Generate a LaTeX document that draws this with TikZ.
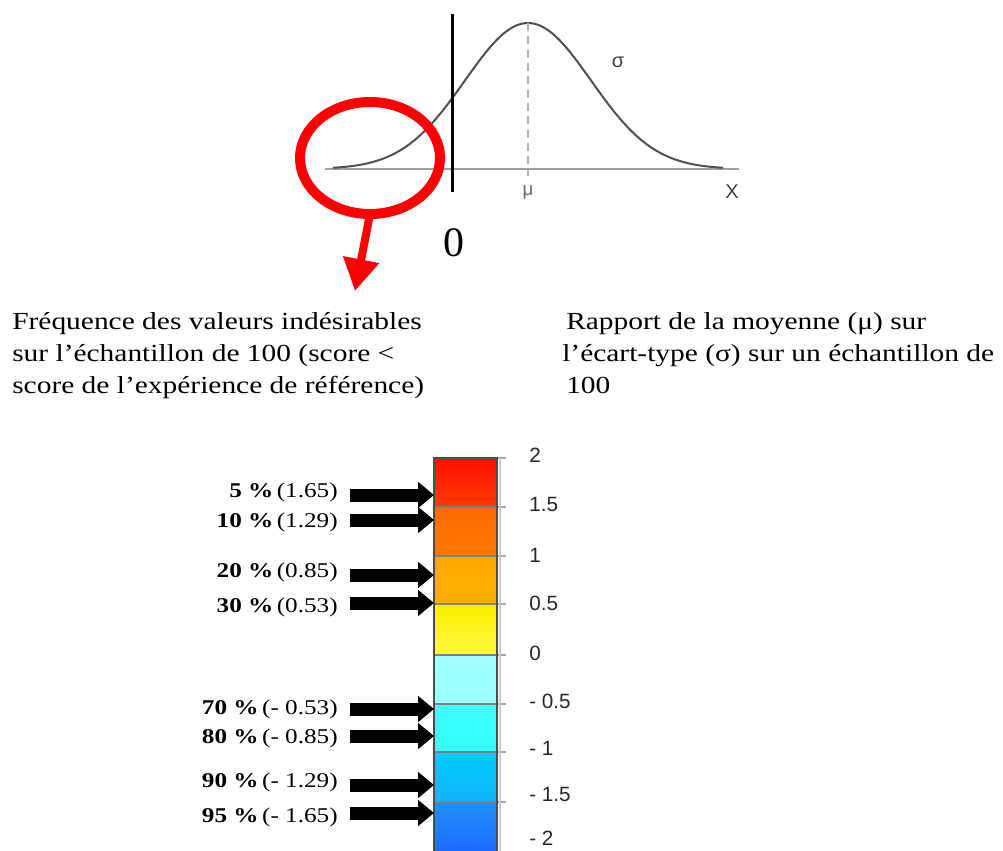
\documentclass[tikz,border=0pt]{standalone}
\usepackage{fontspec}
\setmainfont{Liberation Serif}
\newfontfamily\wserif[FakeStretch=1.2]{Liberation Serif}
\newfontfamily\lsans{Liberation Sans}
\usetikzlibrary{arrows.meta,shapes.geometric}
\definecolor{curvegray}{HTML}{505050}
\definecolor{axisgray}{HTML}{A0A0A0}
\definecolor{redmark}{HTML}{FF0000}
\begin{document}
\begin{tikzpicture}[x=0.75pt,y=-0.75pt,
  para/.style={anchor=base west, inner sep=0, font=\wserif\fontsize{18.4}{24}\selectfont},
  lab/.style={anchor=base east, inner sep=0, font=\wserif\fontsize{15.75}{18}\selectfont},
  tick/.style={anchor=west, inner sep=0, font=\lsans\fontsize{15.5}{18}\selectfont, text=black!85},
  blkarrow/.style={line width=9.75pt, -{Triangle[width=19pt,length=12pt]}},
  redarrow/.style={draw=redmark, line width=6pt, -{Triangle[width=26pt,length=24pt]}},
  sep/.style={draw=black!50, line width=0.9pt},
  tickmark/.style={draw=black!35, line width=1.2pt}]
\useasboundingbox (0,0) rectangle (1003,850);

% ---------- Gaussian plot ----------
\draw[axisgray, line width=1.3pt] (325,169) -- (739,169);
\draw[curvegray, line width=1.5pt, domain=333:723, samples=120, smooth]
  plot (\x, {169-146*exp(-((\x-528)/63)^2/2)});
\draw[black!30, line width=1.3pt, dash pattern=on 6pt off 4pt] (528,23) -- (528,176);
\draw[black, line width=1.6pt] (452.5,14) -- (452.5,192);
\node[inner sep=0, font=\lsans\fontsize{14}{15}\selectfont, text=black!60] (mu) at (528,192) {μ};
\node[inner sep=0, font=\lsans\fontsize{15}{16}\selectfont, text=black!75] (sig) at (618,62) {σ};
\node[inner sep=0, font=\lsans\fontsize{15}{16}\selectfont, text=black!75] (xl) at (732,192) {X};
\node[inner sep=0, font=\fontsize{31.5}{32}\selectfont] (zero) at (454,243) {0};

% ---------- red ellipse and arrow ----------
\node[ellipse, draw=redmark, line width=7.5pt, inner sep=0, outer sep=0,
      minimum width=105pt, minimum height=84pt] (ell) at (370,158) {};
\coordinate (redtip) at (355,291);
\draw[redarrow] (ell.south) -- (redtip);

% ---------- paragraphs ----------
\node[para] (p1) at (12,329) {Fréquence des valeurs indésirables};
\node[para] (p2) at (12,361) {sur l’échantillon de 100 (score <};
\node[para] (p3) at (12,393) {score de l’expérience de référence)};
\node[para] (q1) at (566,329) {Rapport de la moyenne (μ) sur};
\node[para] (q2) at (562,361) {l’écart-type (σ) sur un échantillon de};
\node[para] (q3) at (566,393) {100};

% ---------- colour bar ----------
\shade[top color={rgb,255:red,255;green,16;blue,0}, bottom color={rgb,255:red,255;green,58;blue,0}] (434,458) rectangle (497,507);
\shade[top color={rgb,255:red,255;green,106;blue,0}, bottom color={rgb,255:red,255;green,122;blue,0}] (434,507) rectangle (497,556);
\shade[top color={rgb,255:red,255;green,168;blue,0}, bottom color={rgb,255:red,255;green,176;blue,0}] (434,556) rectangle (497,604);
\shade[top color={rgb,255:red,255;green,238;blue,0}, bottom color={rgb,255:red,255;green,248;blue,64}] (434,604) rectangle (497,655);
\shade[top color={rgb,255:red,160;green,255;blue,255}, bottom color={rgb,255:red,152;green,255;blue,255}] (434,655) rectangle (497,704);
\shade[top color={rgb,255:red,64;green,255;blue,255}, bottom color={rgb,255:red,48;green,255;blue,248}] (434,704) rectangle (497,752);
\shade[top color={rgb,255:red,0;green,204;blue,255}, bottom color={rgb,255:red,16;green,180;blue,248}] (434,752) rectangle (497,802);
\shade[top color={rgb,255:red,32;green,144;blue,255}, bottom color={rgb,255:red,32;green,96;blue,255}] (434,802) rectangle (497,862);
\foreach \yy in {507,556,604,655,704,752,802} {
  \draw[sep] (434,\yy) -- (497,\yy);
}
\foreach \yy in {458,507,556,604,655,704,752,802} {
  \draw[tickmark] (497,\yy) -- (506,\yy);
}
\draw[black!20, line width=1.2pt] (500,458) -- (500,862);
\node[draw=black!70, line width=1.3pt, anchor=north west, inner sep=0, outer sep=0,
      minimum width=47.25pt, minimum height=303pt] (bar) at (434,458) {};

% tick labels
\node[tick] (t1) at (529,455) {2};
\node[tick] (t2) at (529,504) {1.5};
\node[tick] (t3) at (529,555) {1};
\node[tick] (t4) at (529,603) {0.5};
\node[tick] (t5) at (529,653) {0};
\node[tick] (t6) at (529,701) {- 0.5};
\node[tick] (t7) at (529,748) {- 1};
\node[tick] (t8) at (529,794) {- 1.5};
\node[tick] (t9) at (529,838) {- 2};

% ---------- arrow labels and arrows ----------
\node[lab] (l5)  at (338,497) {\textbf{5 \%}\,(1.65)};
\node[lab] (l10) at (338,527) {\textbf{10 \%}\,(1.29)};
\node[lab] (l20) at (338,577) {\textbf{20 \%}\,(0.85)};
\node[lab] (l30) at (338,612) {\textbf{30 \%}\,(0.53)};
\node[lab] (l70) at (338,714) {\textbf{70 \%}\,(- 0.53)};
\node[lab] (l80) at (338,743) {\textbf{80 \%}\,(- 0.85)};
\node[lab] (l90) at (338,787) {\textbf{90 \%}\,(- 1.29)};
\node[lab] (l95) at (338,822) {\textbf{95 \%}\,(- 1.65)};

\coordinate (s5)  at (350,495);
\coordinate (s10) at (350,520);
\coordinate (s20) at (350,575);
\coordinate (s30) at (350,603);
\coordinate (s70) at (350,709);
\coordinate (s80) at (350,736);
\coordinate (s90) at (350,785);
\coordinate (s95) at (350,813);
\foreach \k in {5,10,20,30,70,80,90,95} {
  \draw[blkarrow] (s\k) -- (s\k -| bar.west);
}
\end{tikzpicture}
\end{document}
